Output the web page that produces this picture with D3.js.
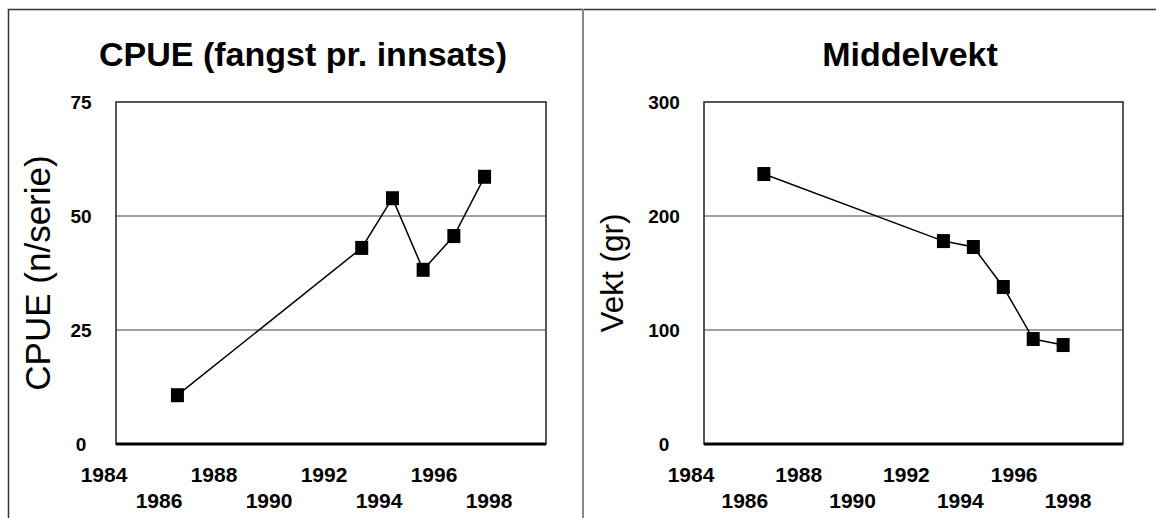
<!DOCTYPE html>
<meta charset="utf-8">
<html>
<head>
<script src="https://d3js.org/d3.v7.min.js"></script>
<style>
    body {
        margin: 0;
        background: #fff;
        font-family: "Liberation Sans", Arial, sans-serif;
    }
</style>
</head>
<body>
<svg id="chart"></svg>
<script>

// data
var years = [1986, 1992, 1993, 1994, 1995, 1996]
var cpue = [10.7, 43.0, 53.9, 38.2, 45.6, 58.6]
var vekt = [236.8, 178.0, 172.8, 137.7, 92.1, 86.8]
var yearTicks = [1984, 1986, 1988, 1990, 1992, 1994, 1996, 1998]
var cpueTicks = [0, 25, 50, 75]
var vektTicks = [0, 100, 200, 300]

var width = 1156
var height = 518

var svg = d3.select("#chart")
    .attr("width", width)
    .attr("height", height)

// outer frame
svg.append("line").attr("x1", 8).attr("x2", width).attr("y1", 9.5).attr("y2", 9.5)
    .attr("stroke", "#333").attr("stroke-width", 1.5)
svg.append("line").attr("x1", 8.5).attr("x2", 8.5).attr("y1", 9).attr("y2", height)
    .attr("stroke", "#333").attr("stroke-width", 1.5)
svg.append("line").attr("x1", 583).attr("x2", 583).attr("y1", 9).attr("y2", height)
    .attr("stroke", "#888").attr("stroke-width", 2)

var panels = [
    {title: "CPUE (fangst pr. innsats)", titleX: 303, ylab: "CPUE (n/serie)", ylabX: 38, ylabSize: 35,
     values: cpue, ticks: cpueTicks, left: 116, right: 546, tickX: 81, labL: 104, labR: 489},
    {title: "Middelvekt", titleX: 910, ylab: "Vekt (gr)", ylabX: 612, ylabSize: 31.5,
     values: vekt, ticks: vektTicks, left: 704, right: 1123, tickX: 664, labL: 691, labR: 1068}
]

var plotTop = 102, plotBottom = 444

panels.forEach(function(p) {
    var x = d3.scaleLinear().domain([1984, 1998]).range([p.left, p.right])
    var xl = d3.scaleLinear().domain([1984, 1998]).range([p.labL, p.labR])
    var y = d3.scaleLinear().domain([0, d3.max(p.ticks)]).range([plotBottom, plotTop])
    var g = svg.append("g")

    // title
    g.append("text")
        .attr("x", p.titleX).attr("y", 66)
        .attr("text-anchor", "middle")
        .style("font-weight", "bold").style("font-size", "34px")
        .text(p.title)

    // y axis title
    g.append("text")
        .attr("transform", "translate(" + p.ylabX + "," + (plotTop + plotBottom) / 2 + ") rotate(-90)")
        .attr("text-anchor", "middle")
        .attr("dy", "0.35em")
        .style("font-size", p.ylabSize + "px")
        .text(p.ylab)

    // gridlines
    g.selectAll(".grid")
        .data(p.ticks.filter(function(t) { return t > 0 && t < d3.max(p.ticks) }))
        .enter().append("line")
        .attr("x1", p.left).attr("x2", p.right)
        .attr("y1", d => y(d)).attr("y2", d => y(d))
        .attr("stroke", "#444").attr("stroke-width", 1)

    // plot box
    g.append("rect")
        .attr("x", p.left).attr("y", plotTop)
        .attr("width", p.right - p.left).attr("height", plotBottom - plotTop)
        .attr("fill", "none").attr("stroke", "#222").attr("stroke-width", 1.5)
    g.append("line")
        .attr("x1", p.left).attr("x2", p.right)
        .attr("y1", plotBottom).attr("y2", plotBottom)
        .attr("stroke", "#000").attr("stroke-width", 3)

    // y tick labels
    g.selectAll(".ytick")
        .data(p.ticks)
        .enter().append("text")
        .attr("x", p.tickX).attr("y", d => y(d))
        .attr("dy", "0.35em")
        .attr("text-anchor", "middle")
        .style("font-weight", "bold").style("font-size", "19px")
        .text(d => d)

    // x tick labels, staggered in two rows
    g.selectAll(".xtick")
        .data(yearTicks)
        .enter().append("text")
        .attr("x", d => xl(d))
        .attr("y", (d, i) => i % 2 == 0 ? 482 : 508)
        .attr("text-anchor", "middle")
        .style("font-weight", "bold").style("font-size", "21px")
        .text(d => d)

    // line
    var line = d3.line()
        .x((d, i) => x(years[i]))
        .y(d => y(d))
    g.append("path")
        .datum(p.values)
        .attr("d", line)
        .attr("fill", "none").attr("stroke", "#000").attr("stroke-width", 1.5)

    // markers
    g.selectAll(".pt")
        .data(p.values)
        .enter().append("rect")
        .attr("x", (d, i) => x(years[i]) - 6.5)
        .attr("y", d => y(d) - 7)
        .attr("width", 13).attr("height", 14)
        .attr("fill", "#000")
})
</script>
</body>
</html>
